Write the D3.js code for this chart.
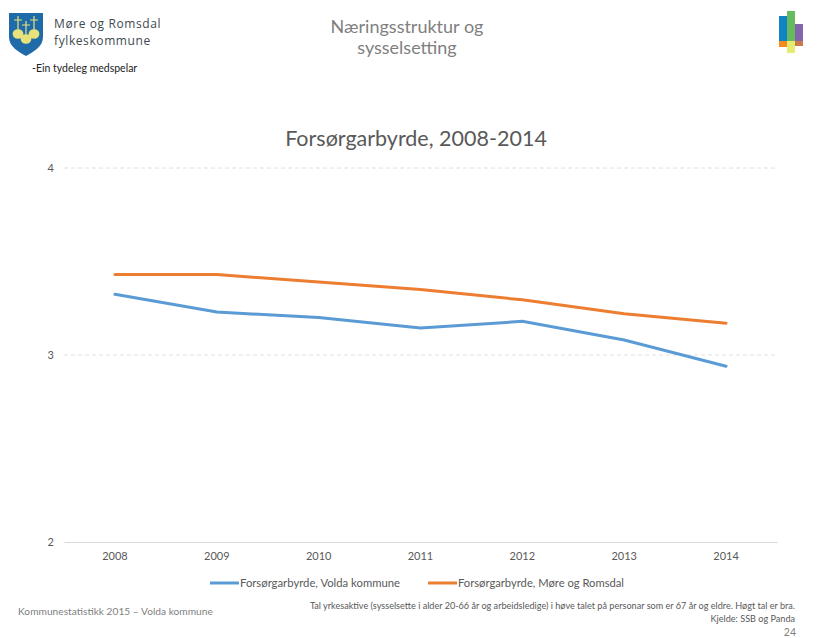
<!DOCTYPE html>
<html lang="nn">
<head>
<meta charset="UTF-8">
<title>Forsørgarbyrde, 2008-2014</title>
<script src="https://cdnjs.cloudflare.com/ajax/libs/d3/7.8.5/d3.min.js"></script>
<style>
    html, body { margin: 0; padding: 0; background: #fff; }
    svg { display: block; }
    text { font-family: Lato, "Open Sans", sans-serif; }
</style>
</head>
<body>
<svg id="chart" width="836" height="638"></svg>
<script>
const years = ["2008", "2009", "2010", "2011", "2012", "2013", "2014"];
const voldaValues = [3.325, 3.23, 3.20, 3.145, 3.18, 3.08, 2.94];
const mrValues = [3.43, 3.43, 3.39, 3.35, 3.295, 3.22, 3.17];
const yTicks = [2, 3, 4];
const seriesNames = ["Forsørgarbyrde, Volda kommune", "Forsørgarbyrde, Møre og Romsdal"];
const seriesColors = ["#5b9bd5", "#ed7d31"];

const svg = d3.select("#chart");

const x = d3.scaleBand().domain(years).range([64, 777]);
const y = d3.scaleLinear().domain([2, 4]).range([542, 168]);

function label(px, py, str, size, color, anchor) {
    return svg.append("text")
        .attr("x", px)
        .attr("y", py)
        .attr("font-size", size)
        .attr("fill", color)
        .attr("text-anchor", anchor || "start")
        .text(str);
}

// header logo (left)
const shield = svg.append("g").attr("transform", "translate(9,13)");
shield.append("path")
    .attr("d", "M0 0 H34 V24 C34 34 24 39 17 43 C10 39 0 34 0 24 Z")
    .attr("fill", "#1f6aa8");
[[9, 8], [25, 8], [17, 13]].forEach(function (c) {
    shield.append("path")
        .attr("d", `M${c[0]} ${c[1] - 5} V${c[1] + 9} M${c[0] - 4} ${c[1] - 1} H${c[0] + 4}`)
        .attr("stroke", "#e8e27a")
        .attr("stroke-width", 1.2);
    shield.append("ellipse")
        .attr("cx", c[0])
        .attr("cy", c[1] + 13)
        .attr("rx", 5.4)
        .attr("ry", 4.8)
        .attr("fill", "#e8e27a");
});
label(54, 28, "Møre og Romsdal", 12, "#404a50")
    .style("font-family", "'Open Sans'").style("letter-spacing", "0.6px");
label(54, 44.5, "fylkeskommune", 12, "#404a50")
    .style("font-family", "'Open Sans'").style("letter-spacing", "0.6px");
label(32, 72, "-Ein tydeleg medspelar", 10.5, "#222");

// header logo (right)
const blocks = [
    [779, 16, 8, 26, "#0f83c4"],
    [787, 11, 8, 30, "#66bb5c"],
    [795, 24, 8, 17, "#8563ad"],
    [779, 41, 8, 6, "#f58a1f"],
    [787, 41, 8, 12, "#e6ec72"],
    [795, 41, 8, 5, "#c9794a"]
];
svg.append("g").selectAll("rect").data(blocks).join("rect")
    .attr("x", d => d[0])
    .attr("y", d => d[1])
    .attr("width", d => d[2])
    .attr("height", d => d[3])
    .attr("fill", d => d[4]);

// titles
label(407, 33, "Næringsstruktur og", 18, "#7f7f7f", "middle");
label(407, 54, "sysselsetting", 18, "#7f7f7f", "middle");
label(416, 146, "Forsørgarbyrde, 2008-2014", 21.5, "#595959", "middle");

// gridlines
svg.append("g").selectAll("line").data(yTicks.filter(d => d !== 2)).join("line")
    .attr("x1", 64)
    .attr("x2", 777)
    .attr("y1", d => y(d))
    .attr("y2", d => y(d))
    .attr("stroke", "#e0e0e0")
    .attr("stroke-dasharray", "4 3");

// axes
const xAxis = svg.append("g")
    .attr("transform", "translate(0,542)")
    .call(d3.axisBottom(x).tickSize(0).tickPadding(10));
xAxis.select(".domain").attr("stroke", "#d9d9d9");
xAxis.selectAll("text").attr("font-size", 11).attr("fill", "#595959");
xAxis.attr("font-family", null);

const yAxis = svg.append("g")
    .attr("transform", "translate(56,0)")
    .call(d3.axisLeft(y).tickValues(yTicks).tickFormat(d3.format("d")).tickSize(0).tickPadding(2));
yAxis.select(".domain").remove();
yAxis.selectAll("text").attr("font-size", 11).attr("fill", "#595959");
yAxis.attr("font-family", null);

// lines
const line = d3.line()
    .x((d, i) => x(years[i]) + x.bandwidth() / 2)
    .y(d => y(d));

[voldaValues, mrValues].forEach(function (vals, i) {
    svg.append("path")
        .attr("d", line(vals))
        .attr("fill", "none")
        .attr("stroke", seriesColors[i])
        .attr("stroke-width", 3)
        .attr("stroke-linecap", "round");
});

// legend
const legendX = [210, 428];
const legendTextWidth = [160, 166];
seriesNames.forEach(function (name, i) {
    svg.append("line")
        .attr("x1", legendX[i])
        .attr("x2", legendX[i] + 29)
        .attr("y1", 583)
        .attr("y2", 583)
        .attr("stroke", seriesColors[i])
        .attr("stroke-width", 3);
    label(legendX[i] + 30, 587, name, 11, "#595959")
        .attr("textLength", legendTextWidth[i])
        .attr("lengthAdjust", "spacingAndGlyphs");
});

// footer
label(18, 615, "Kommunestatistikk 2015 – Volda kommune", 10.2, "#7f7f7f");
label(795, 609, "Tal yrkesaktive (sysselsette i alder 20-66 år og arbeidsledige) i høve talet på personar som er 67 år og eldre. Høgt tal er bra.", 9.1, "#595959", "end");
label(795, 622, "Kjelde: SSB og Panda", 9.1, "#595959", "end");
label(796, 636, "24", 10.5, "#7f7f7f", "end");
</script>
</body>
</html>
